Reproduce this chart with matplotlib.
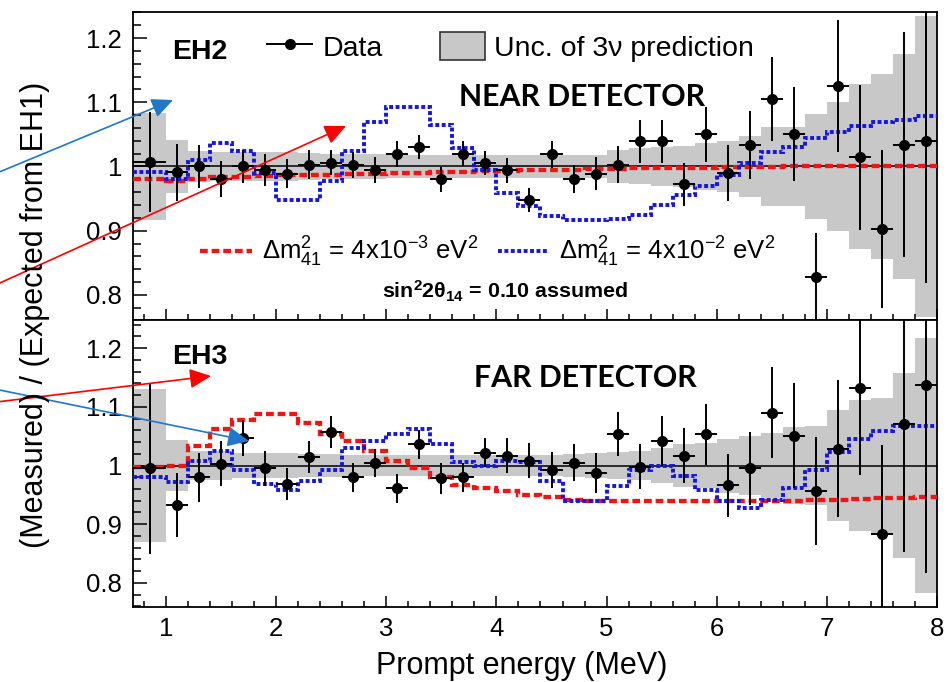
import numpy as np
import matplotlib
matplotlib.use("Agg")
import matplotlib.pyplot as plt
from matplotlib.lines import Line2D
from matplotlib.patches import Patch, FancyArrowPatch
from matplotlib.ticker import MultipleLocator, FormatStrFormatter

plt.rcParams['font.family'] = ['Liberation Sans', 'DejaVu Sans']
plt.rcParams['mathtext.fontset'] = 'custom'
plt.rcParams['mathtext.rm'] = 'Liberation Sans'
plt.rcParams['mathtext.it'] = 'Liberation Sans:italic'
plt.rcParams['mathtext.bf'] = 'Liberation Sans:bold'

# prompt energy bins (MeV): first bin 0.7-1.0, then 0.2 MeV wide up to 8
energy = [0.85, 1.1, 1.3, 1.5, 1.7, 1.9, 2.1, 2.3, 2.5, 2.7, 2.9, 3.1, 3.3, 3.5, 3.7, 3.9, 4.1, 4.3,
          4.5, 4.7, 4.9, 5.1, 5.3, 5.5, 5.7, 5.9, 6.1, 6.3, 6.5, 6.7, 6.9, 7.1, 7.3, 7.5, 7.7, 7.9]

# EH2 / EH1
eh2_ratio = [1.007, 0.991, 1.000, 0.980, 1.000, 0.994, 0.989, 1.003, 1.006, 1.002, 0.995, 1.019,
             1.030, 0.980, 1.020, 1.005, 0.994, 0.948, 1.019, 0.980, 0.989, 1.003, 1.039, 1.039,
             0.972, 1.050, 0.990, 1.034, 1.105, 1.050, 0.828, 1.125, 1.014, 0.902, 1.034, 1.039]
eh2_err = [0.078, 0.044, 0.033, 0.028, 0.026, 0.025, 0.023, 0.022, 0.020, 0.020, 0.020, 0.020,
           0.019, 0.019, 0.019, 0.019, 0.019, 0.019, 0.021, 0.022, 0.026, 0.029, 0.034, 0.034,
           0.034, 0.043, 0.043, 0.053, 0.066, 0.073, 0.068, 0.103, 0.113, 0.123, 0.175, 0.220]
eh2_unc = [0.083, 0.041, 0.024, 0.023, 0.023, 0.022, 0.022, 0.021, 0.020, 0.020, 0.019, 0.018,
           0.018, 0.018, 0.018, 0.018, 0.018, 0.018, 0.018, 0.018, 0.018, 0.025, 0.028, 0.030,
           0.032, 0.036, 0.040, 0.047, 0.061, 0.061, 0.081, 0.100, 0.128, 0.144, 0.175, 0.235]
eh2_dm2_4e3 = [0.981, 0.977, 0.981, 0.983, 0.984, 0.985, 0.986, 0.986, 0.987, 0.988, 0.989, 0.990,
               0.990, 0.991, 0.992, 0.993, 0.993, 0.994, 0.995, 0.995, 0.996, 0.996, 0.997, 0.997,
               0.998, 0.998, 0.999, 0.999, 0.999, 1.000, 1.000, 1.000, 1.000, 1.000, 1.000, 1.000]
eh2_dm2_4e2 = [0.992, 0.980, 1.010, 1.037, 1.024, 0.990, 0.948, 0.948, 0.977, 1.024, 1.069, 1.092,
               1.092, 1.064, 1.028, 0.995, 0.959, 0.938, 0.923, 0.917, 0.917, 0.918, 0.925, 0.940,
               0.956, 0.969, 0.987, 1.006, 1.022, 1.031, 1.045, 1.053, 1.063, 1.069, 1.073, 1.078]

# EH3 / EH1
eh3_ratio = [0.995, 0.933, 0.980, 1.003, 1.047, 0.995, 0.969, 1.015, 1.057, 0.980, 1.005, 0.961,
             1.036, 0.978, 0.980, 1.022, 1.017, 1.008, 0.992, 1.005, 0.988, 1.054, 0.998, 1.042,
             1.017, 1.053, 0.966, 0.995, 1.090, 1.051, 0.956, 1.029, 1.132, 0.883, 1.071, 1.137]
eh3_err = [0.146, 0.055, 0.042, 0.038, 0.031, 0.030, 0.027, 0.027, 0.027, 0.025, 0.024, 0.025,
           0.025, 0.027, 0.025, 0.025, 0.030, 0.030, 0.031, 0.032, 0.034, 0.037, 0.038, 0.042,
           0.047, 0.052, 0.054, 0.062, 0.078, 0.089, 0.092, 0.116, 0.148, 0.152, 0.218, 0.320]
eh3_unc = [0.130, 0.043, 0.024, 0.024, 0.022, 0.022, 0.021, 0.020, 0.020, 0.018, 0.018, 0.018,
           0.018, 0.018, 0.018, 0.018, 0.018, 0.018, 0.018, 0.020, 0.022, 0.023, 0.025, 0.030,
           0.036, 0.038, 0.046, 0.050, 0.056, 0.065, 0.068, 0.095, 0.112, 0.115, 0.157, 0.218]
eh3_dm2_4e3 = [0.998, 1.000, 1.033, 1.063, 1.078, 1.087, 1.087, 1.072, 1.054, 1.041, 1.024, 1.008,
               0.995, 0.981, 0.966, 0.961, 0.956, 0.950, 0.946, 0.941, 0.939, 0.939, 0.939, 0.939,
               0.939, 0.939, 0.939, 0.939, 0.939, 0.940, 0.941, 0.942, 0.943, 0.944, 0.945, 0.946]
eh3_dm2_4e2 = [0.980, 0.972, 1.007, 1.024, 0.993, 0.968, 0.958, 0.974, 0.993, 1.030, 1.042, 1.054,
               1.063, 1.037, 1.006, 1.000, 1.008, 1.006, 0.973, 0.939, 0.939, 0.965, 0.992, 1.000,
               0.983, 0.958, 0.939, 0.927, 0.941, 0.961, 0.992, 1.023, 1.046, 1.059, 1.068, 1.068]

e = np.array(energy)
edges = np.r_[0.7, e[1:] - 0.1, 8.0]
xerr = [e - edges[:-1], edges[1:] - e]

RED = '#f01414'
BLUE = '#1414e6'
BAND = '#c8c8c8'
RED_LS = (0, (1.8, 0.9))
BLUE_LS = (0, (1.0, 0.65))


def draw_panel(ax, ratio, err, unc, low, high, ylim):
    unc = np.array(unc)
    ax.stairs(1 + unc, edges, baseline=1 - unc, fill=True, color=BAND, lw=0, zorder=1)
    ax.axhline(1.0, color='black', lw=1.1, zorder=2)
    ax.stairs(low, edges, color=RED, lw=3.1, linestyle=RED_LS, baseline=None, zorder=3)
    ax.stairs(high, edges, color=BLUE, lw=2.8, linestyle=BLUE_LS, baseline=None, zorder=3)
    ax.errorbar(e, ratio, yerr=err, xerr=xerr, fmt='o', color='black', ms=7,
                elinewidth=1.4, capsize=0, zorder=4)
    ax.set_xlim(0.7, 8.0)
    ax.set_ylim(*ylim)
    ax.yaxis.set_major_locator(MultipleLocator(0.1))
    ax.yaxis.set_minor_locator(MultipleLocator(0.02))
    ax.yaxis.set_major_formatter(FormatStrFormatter('%g'))
    ax.xaxis.set_major_locator(MultipleLocator(1))
    ax.xaxis.set_minor_locator(MultipleLocator(0.2))
    ax.tick_params(which='both', direction='in', top=False, right=False, width=1.1, labelsize=18.5)
    ax.tick_params(axis='y', which='major', length=10, pad=8)
    ax.tick_params(axis='y', which='minor', length=6)
    ax.tick_params(axis='x', which='major', length=8, pad=7)
    ax.tick_params(axis='x', which='minor', length=4)
    for s in ax.spines.values():
        s.set_linewidth(1.3)


fig = plt.figure(figsize=(9.5, 6.82), dpi=100)
ax1 = fig.add_axes([0.140, 0.5308, 0.8463, 0.4516])
ax2 = fig.add_axes([0.140, 0.1100, 0.8463, 0.4208])

draw_panel(ax1, eh2_ratio, eh2_err, eh2_unc, eh2_dm2_4e3, eh2_dm2_4e2, (0.761, 1.2405))
draw_panel(ax2, eh3_ratio, eh3_err, eh3_unc, eh3_dm2_4e3, eh3_dm2_4e2, (0.759, 1.248))
ax1.tick_params(axis='x', labelbottom=False)

ax1.text(0.0485, 0.87, 'EH2', transform=ax1.transAxes, fontsize=20.5, fontweight='bold', va='center')
ax2.text(0.0485, 0.871, 'EH3', transform=ax2.transAxes, fontsize=20.5, fontweight='bold', va='center')

# legends in the EH2 panel
top_handles = [Line2D([], [], color='black', marker='o', ms=7, lw=1.4),
               Patch(facecolor=BAND, edgecolor='#333333', lw=1.2)]
leg1 = ax1.legend(top_handles, ['Data', u'Unc. of 3\u03bd prediction'], ncol=2, loc='center left',
                  bbox_to_anchor=(0.153, 0.886), frameon=False, fontsize=20.5, handlelength=1.58,
                  handleheight=1.1, handletextpad=0.35, columnspacing=2.0, borderaxespad=0)
ax1.add_artist(leg1)

model_handles = [Line2D([], [], color=RED, lw=3.1, linestyle=RED_LS),
                 Line2D([], [], color=BLUE, lw=2.8, linestyle=BLUE_LS)]
model_labels = [r'$\Delta$m$^{2}_{41}$ = 4x10$^{-3}$ eV$^{2}$',
                r'$\Delta$m$^{2}_{41}$ = 4x10$^{-2}$ eV$^{2}$']
ax1.legend(model_handles, model_labels, ncol=2, loc='center left', bbox_to_anchor=(0.071, 0.22),
           frameon=False, fontsize=18.5, handlelength=2.0, handletextpad=0.4, columnspacing=0.75,
           borderaxespad=0)
ax1.text(0.463, 0.094, r'sin$^{\mathbf{2}}$2θ$_{\mathbf{14}}$ = 0.10 assumed', transform=ax1.transAxes,
         fontsize=15.4, fontweight='bold', va='center', ha='center')

ax1.text(0.559, 0.724, 'NEAR DETECTOR', transform=ax1.transAxes, fontsize=21.8, fontweight='bold',
         family='Lato', ha='center', va='center')
ax2.text(0.563, 0.798, 'FAR DETECTOR', transform=ax2.transAxes, fontsize=21.8, fontweight='bold',
         family='Lato', ha='center', va='center')

ax2.set_xlabel('Prompt energy (MeV)', fontsize=22)
ax2.xaxis.set_label_coords(0.483, -0.155)
fig.text(0.037, 0.538, '(Measured) / (Expected from EH1)', rotation=90, fontsize=22,
         ha='center', va='center')

# pointer arrows from the left margin (pixel coords from bottom-left)
H = 682
arrows = [((-20, H - 180), (173, H - 100), '#1f78c8'),
          ((-20, H - 292), (346, H - 126), '#ff0000'),
          ((-20, H - 404), (211, H - 376), '#ff0000'),
          ((-20, H - 386), (249, H - 441), '#1f78c8')]
for start, tip, col in arrows:
    fig.add_artist(FancyArrowPatch(
        posA=start, posB=tip, transform=None, arrowstyle='-|>,head_length=0.52,head_width=0.24',
        mutation_scale=25, color=col, lw=1.2, shrinkA=0, shrinkB=0))

fig.savefig('out.png', dpi=100)
